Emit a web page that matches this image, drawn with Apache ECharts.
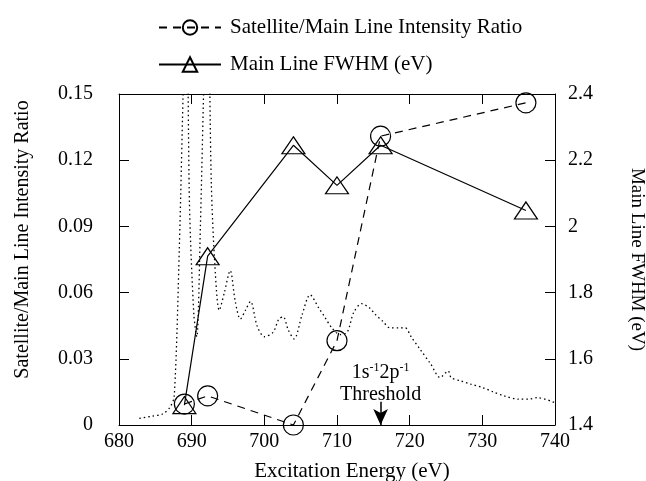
<!DOCTYPE html>
<html>
<head>
<meta charset="utf-8">
<script src="https://cdn.jsdelivr.net/npm/echarts@6/dist/echarts.min.js"></script>
<style>
  html, body { margin: 0; padding: 0; background: #fff; }
  #grafico { width: 646px; height: 481px; }
</style>
</head>
<body>
<div id="grafico"></div>
<script>
// dados
var energiaRazao = [689, 692.2, 704, 710, 716, 736];
var razao = [0.0095, 0.0132, 0.0, 0.0382, 0.1309, 0.146];

var energiaFwhm = [689, 692.2, 704, 710, 716, 736];
var fwhm = [1.46, 1.91, 2.245, 2.124, 2.245, 2.048];

// espectro (pontilhado), picos cortados no topo
var espectroX = [682.8, 684.5, 686, 687, 687.6, 688.3, 688.9, 689.3, 689.7, 690.3, 690.7, 691.2, 691.8, 692.2, 692.7, 693.2, 693.8, 694.5, 695.3, 696, 696.7, 697.4, 698.1, 699, 700, 701.2, 702, 702.6, 703.3, 704.1, 705.2, 706.3, 707.5, 708.3, 709.3, 710.4, 711.4, 712.3, 713.4, 714.5, 715.3, 716.3, 717.3, 718.5, 719.4, 720.2, 721.5, 722.9, 724.2, 725.3, 725.7, 727, 728.4, 730, 731.5, 733, 735, 736.5, 737.6, 740];
var espectroY = [0.003, 0.004, 0.005, 0.008, 0.013, 0.08, 0.16, 0.2, 0.1, 0.05, 0.04, 0.09, 0.17, 0.2, 0.11, 0.072, 0.052, 0.06, 0.07, 0.056, 0.048, 0.052, 0.056, 0.045, 0.04, 0.042, 0.048, 0.049, 0.043, 0.039, 0.05, 0.059, 0.053, 0.049, 0.044, 0.041, 0.042, 0.051, 0.055, 0.053, 0.05, 0.047, 0.044, 0.044, 0.044, 0.04, 0.034, 0.0276, 0.0215, 0.0245, 0.0215, 0.02, 0.0185, 0.017, 0.015, 0.0132, 0.0117, 0.0118, 0.0124, 0.0101];

var ticksX = [680, 740, 10];
var ticksEsq = [0, 0.15, 0.03];
var ticksDir = [1.4, 2.4, 0.2];

var limiar = 716;

function pares(xs, ys) {
    return xs.map(function (x, i) { return [x, ys[i]]; });
}

var fonte = 'Liberation Serif';

function CriaGrafico() {
    var chartDom = document.getElementById('grafico');
    var myChart = echarts.init(chartDom);

    var option = {
        animation: false,
        textStyle: { fontFamily: fonte, color: '#000' },
        grid: { left: 119, right: 91, top: 94, bottom: 56, outerBoundsMode: 'none', containLabel: false },
        legend: {
            orient: 'vertical',
            left: 153,
            top: 12,
            itemWidth: 62,
            itemHeight: 18,
            itemGap: 16,
            data: ['Satellite/Main Line Intensity Ratio', 'Main Line FWHM (eV)'],
            textStyle: { fontFamily: fonte, fontSize: 21, color: '#000', padding: [0, 0, 0, 4] }
        },
        xAxis: [
            {
                type: 'value',
                min: ticksX[0], max: ticksX[1], interval: ticksX[2],
                name: 'Excitation Energy (eV)',
                nameLocation: 'middle',
                nameGap: 36,
                nameTextStyle: { fontFamily: fonte, fontSize: 21, color: '#000', padding: [0, 0, 0, 30] },
                axisLine: { lineStyle: { color: '#000', width: 1 } },
                axisTick: { inside: true, length: 10, lineStyle: { color: '#000' } },
                axisLabel: { margin: 7, fontFamily: fonte, fontSize: 20, color: '#000' },
                splitLine: { show: false }
            },
            {
                type: 'value',
                position: 'top',
                min: ticksX[0], max: ticksX[1], interval: ticksX[2],
                axisLine: { lineStyle: { color: '#000', width: 1 } },
                axisTick: { inside: true, length: 10, lineStyle: { color: '#000' } },
                axisLabel: { show: false },
                splitLine: { show: false }
            }
        ],
        yAxis: [
            {
                type: 'value',
                min: ticksEsq[0], max: ticksEsq[1], interval: ticksEsq[2],
                name: 'Satellite/Main Line Intensity Ratio',
                nameLocation: 'middle',
                nameRotate: 90,
                nameGap: 86,
                nameTextStyle: { fontFamily: fonte, fontSize: 20, color: '#000', padding: [0, 0, 0, 40] },
                axisLine: { show: true, lineStyle: { color: '#000', width: 1 } },
                axisTick: { show: true, inside: true, length: 10, lineStyle: { color: '#000' } },
                axisLabel: {
                    margin: 26, fontFamily: fonte, fontSize: 20, color: '#000',
                    formatter: function (v) { return String(+v.toFixed(2)); }
                },
                splitLine: { show: false }
            },
            {
                type: 'value',
                position: 'right',
                min: ticksDir[0], max: ticksDir[1], interval: ticksDir[2],
                name: 'Main Line FWHM (eV)',
                nameLocation: 'middle',
                nameRotate: -90,
                nameGap: 72,
                nameTextStyle: { fontFamily: fonte, fontSize: 19, color: '#000' },
                axisLine: { show: true, lineStyle: { color: '#000', width: 1 } },
                axisTick: { show: true, inside: true, length: 10, lineStyle: { color: '#000' } },
                axisLabel: {
                    margin: 13, fontFamily: fonte, fontSize: 20, color: '#000',
                    formatter: function (v) { return String(+v.toFixed(1)); }
                },
                splitLine: { show: false }
            }
        ],
        series: [
            {
                name: 'espectro',
                type: 'line',
                xAxisIndex: 0,
                yAxisIndex: 0,
                data: pares(espectroX, espectroY),
                symbol: 'none',
                smooth: 0.3,
                clip: true,
                lineStyle: { color: '#000', width: 1.3, type: [1.5, 3] },
                silent: true
            },
            {
                name: 'Satellite/Main Line Intensity Ratio',
                type: 'line',
                xAxisIndex: 0,
                yAxisIndex: 0,
                data: pares(energiaRazao, razao),
                symbol: 'circle',
                symbolSize: 20,
                clip: false,
                itemStyle: { color: 'rgba(255,255,255,0)', borderColor: '#000', borderWidth: 1.2 },
                lineStyle: { color: '#000', width: 1.2, type: [8, 6] },
                markLine: {
                    silent: true,
                    symbol: ['none', 'arrow'],
                    symbolSize: [11, 16],
                    lineStyle: { color: '#000', width: 1.5, type: 'solid' },
                    label: {
                        show: true,
                        position: 'start',
                        distance: -4,
                        formatter: '{a|1s}{s|-1}{a|2p}{s|-1}\n{a|Threshold}',
                        rich: {
                            a: { fontFamily: fonte, fontSize: 20, color: '#000', lineHeight: 22 },
                            s: { fontFamily: fonte, fontSize: 12, color: '#000', verticalAlign: 'top', lineHeight: 22, padding: [0, 0, 10, 0] }
                        }
                    },
                    data: [[{ coord: [limiar, 0.0105] }, { coord: [limiar, 0] }]]
                }
            },
            {
                name: 'Main Line FWHM (eV)',
                type: 'line',
                xAxisIndex: 0,
                yAxisIndex: 1,
                data: pares(energiaFwhm, fwhm),
                symbol: 'triangle',
                symbolSize: [23, 17],
                clip: false,
                itemStyle: { color: 'rgba(255,255,255,0)', borderColor: '#000', borderWidth: 1.2 },
                lineStyle: { color: '#000', width: 1.2, type: 'solid' }
            }
        ]
    };

    option && myChart.setOption(option);
}

CriaGrafico();
</script>
</body>
</html>
